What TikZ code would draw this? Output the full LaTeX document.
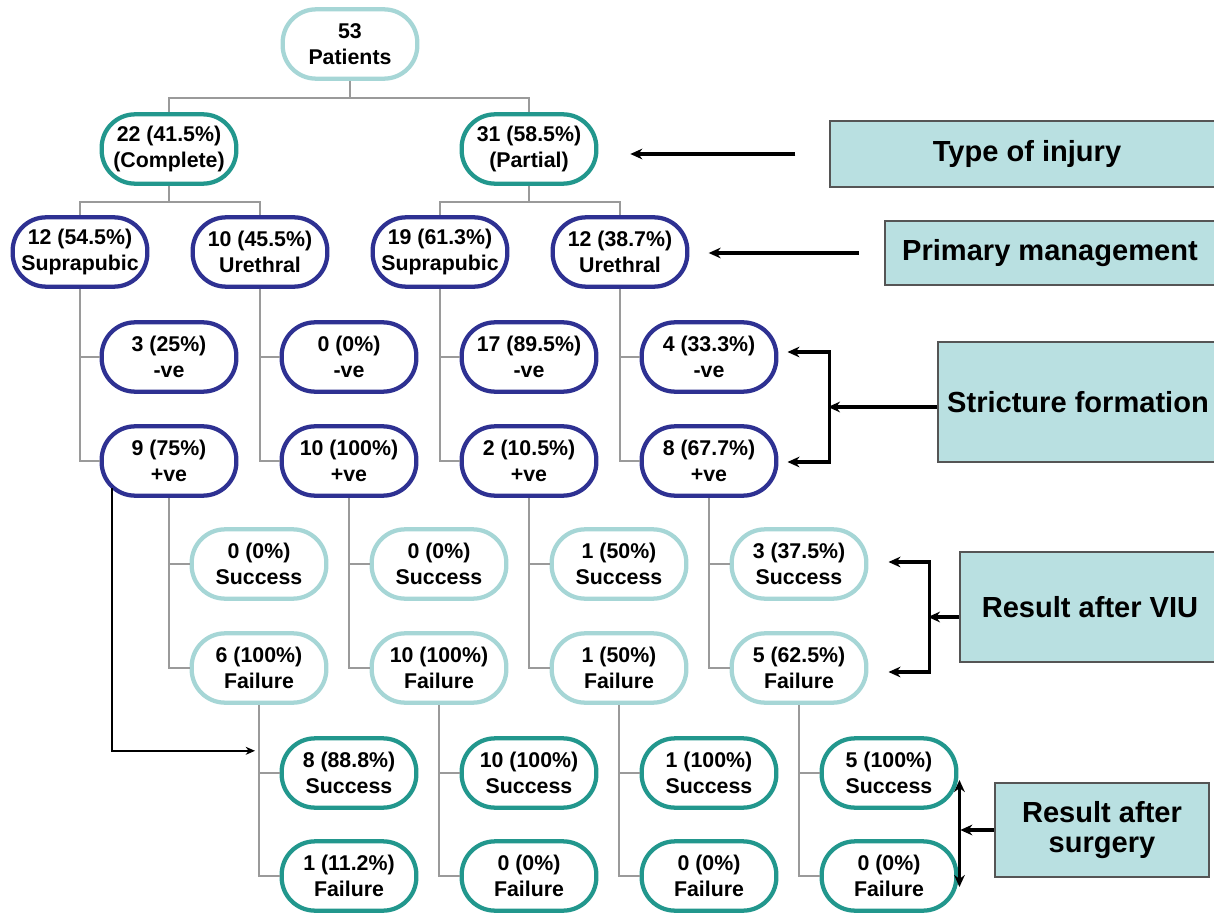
\documentclass[tikz,border=0pt]{standalone}
\usepackage{fontspec}
\setmainfont{Liberation Sans}
\usepackage{tikz}
\usetikzlibrary{positioning,calc,arrows.meta}
\tikzset{>=stealth}
\definecolor{paleteal}{HTML}{A6D6D6}
\definecolor{injteal}{HTML}{22978D}
\definecolor{mgnavy}{HTML}{2E3192}
\definecolor{linegray}{HTML}{9A9A9A}
\definecolor{tagfill}{HTML}{B9E0E1}
\definecolor{tagborder}{HTML}{555555}
\tikzset{
  stage/.style={rectangle,rounded corners=25pt,line width=3.2pt,fill=white,minimum width=101pt,minimum height=52pt,inner sep=0pt,align=center,font=\bfseries\fontsize{16}{19.5}\selectfont},
  lightbox/.style={stage,draw=paleteal},
  tealbox/.style={stage,draw=injteal},
  navybox/.style={stage,draw=mgnavy},
  stagelabel/.style={rectangle,draw=tagborder,line width=1.5pt,fill=tagfill,align=center,font=\bfseries\fontsize{21.8}{22.5}\selectfont},
  conn/.style={draw=linegray,line width=1.1pt},
  pointer/.style={line width=2.3pt,-{Stealth[length=9pt,width=8pt]}},
  bracket/.style={line width=2.3pt,{Stealth[length=9pt,width=8pt]}-{Stealth[length=9pt,width=8pt]}}
}

\begin{document}
\begin{tikzpicture}[x=0.75pt,y=-0.75pt]
\useasboundingbox (0,0) rectangle (1214,913);
% tree of patients
\node[lightbox] (root) at (350,44) {53\\Patients};
\node[tealbox] (complete) at (169,149) {22 (41.5\%)\\(Complete)};
\node[tealbox] (partial) at (529,149) {31 (58.5\%)\\(Partial)};
\node[navybox] (mgA) at (80,252) {12 (54.5\%)\\Suprapubic};
\node[navybox] (mgB) at (260,252) {10 (45.5\%)\\Urethral};
\node[navybox] (mgC) at (440,252) {19 (61.3\%)\\Suprapubic};
\node[navybox] (mgD) at (620,252) {12 (38.7\%)\\Urethral};
\node[navybox] (negA) at (169,357) {3 (25\%)\\-ve};
\node[navybox] (negB) at (349,357) {0 (0\%)\\-ve};
\node[navybox] (negC) at (529,357) {17 (89.5\%)\\-ve};
\node[navybox] (negD) at (709,357) {4 (33.3\%)\\-ve};
\node[navybox] (posA) at (169,461) {9 (75\%)\\+ve};
\node[navybox] (posB) at (349,461) {10 (100\%)\\+ve};
\node[navybox] (posC) at (529,461) {2 (10.5\%)\\+ve};
\node[navybox] (posD) at (709,461) {8 (67.7\%)\\+ve};
\node[lightbox] (viuSA) at (259,564) {0 (0\%)\\Success};
\node[lightbox] (viuSB) at (439,564) {0 (0\%)\\Success};
\node[lightbox] (viuSC) at (619,564) {1 (50\%)\\Success};
\node[lightbox] (viuSD) at (799,564) {3 (37.5\%)\\Success};
\node[lightbox] (viuFA) at (259,668) {6 (100\%)\\Failure};
\node[lightbox] (viuFB) at (439,668) {10 (100\%)\\Failure};
\node[lightbox] (viuFC) at (619,668) {1 (50\%)\\Failure};
\node[lightbox] (viuFD) at (799,668) {5 (62.5\%)\\Failure};
\node[tealbox] (surSA) at (349,773) {8 (88.8\%)\\Success};
\node[tealbox] (surSB) at (529,773) {10 (100\%)\\Success};
\node[tealbox] (surSC) at (709,773) {1 (100\%)\\Success};
\node[tealbox] (surSD) at (889,773) {5 (100\%)\\Success};
\node[tealbox] (surFA) at (349,876) {1 (11.2\%)\\Failure};
\node[tealbox] (surFB) at (529,876) {0 (0\%)\\Failure};
\node[tealbox] (surFC) at (709,876) {0 (0\%)\\Failure};
\node[tealbox] (surFD) at (889,876) {0 (0\%)\\Failure};
% grey links
\draw[conn] (root.south) -- ++(0,17) -| (complete.north);
\draw[conn] (root.south) -- ++(0,17) -| (partial.north);
\draw[conn] (complete.south) -- ++(0,16) -| (mgA.north);
\draw[conn] (complete.south) -- ++(0,16) -| (mgB.north);
\draw[conn] (partial.south) -- ++(0,16) -| (mgC.north);
\draw[conn] (partial.south) -- ++(0,16) -| (mgD.north);
\draw[conn] (mgA.south) |- (negA.west) (mgA.south) |- (posA.west);
\draw[conn] (mgB.south) |- (negB.west) (mgB.south) |- (posB.west);
\draw[conn] (mgC.south) |- (negC.west) (mgC.south) |- (posC.west);
\draw[conn] (mgD.south) |- (negD.west) (mgD.south) |- (posD.west);
\draw[conn] (posA.south) |- (viuSA.west) (posA.south) |- (viuFA.west);
\draw[conn] (posB.south) |- (viuSB.west) (posB.south) |- (viuFB.west);
\draw[conn] (posC.south) |- (viuSC.west) (posC.south) |- (viuFC.west);
\draw[conn] (posD.south) |- (viuSD.west) (posD.south) |- (viuFD.west);
\draw[conn] (viuFA.south) |- (surSA.west) (viuFA.south) |- (surFA.west);
\draw[conn] (viuFB.south) |- (surSB.west) (viuFB.south) |- (surFB.west);
\draw[conn] (viuFC.south) |- (surSC.west) (viuFC.south) |- (surFC.west);
\draw[conn] (viuFD.south) |- (surSD.west) (viuFD.south) |- (surFD.west);
\draw[line width=1.1pt,-{Stealth[length=7pt,width=6pt]}] ($(posA.center)+(-57,27)$) |- ($(viuFA.south)+(-4,46)$);
% stage labels on the right
\node[stagelabel,minimum width=295pt,minimum height=49pt] (injury) at (1027,154) {Type of injury};
\node[stagelabel,minimum width=248pt,minimum height=48.5pt] (primary) at (1050,253) {Primary management};
\node[stagelabel,minimum width=210pt,minimum height=90.5pt] (stricture) at (1078,402) {Stricture formation};
\node[stagelabel,minimum width=195pt,minimum height=82.5pt] (viu) at (1090,607) {Result after VIU};
\node[stagelabel,minimum width=160pt,minimum height=70pt] (surgery) at (1102,830) {Result after\\surgery};
\draw[pointer] ($(injury.west)+(-34,0)$) -- ++(-165,0);
\draw[pointer] ($(primary.west)+(-25,0)$) -- ++(-150,0);
\draw[pointer] ($(stricture.west)+(0,5)$) -- ++(-109,0);
\draw[bracket] ($(negD.east)+(9,-5)$) -- ++(42,0) |- ($(posD.east)+(9,1)$);
\draw[pointer] ($(viu.west)+(0,10)$) -- ++(-31,0);
\draw[bracket] ($(viuSD.east)+(20,-2)$) -- ++(41,0) |- ($(viuFD.east)+(20,4)$);
\draw[pointer] (surgery.west) -- ++(-34,0);
\draw[bracket] ($(surSD.east)+(1,7)$) -- ($(surFD.east)+(1,11)$);
\end{tikzpicture}
\end{document}
